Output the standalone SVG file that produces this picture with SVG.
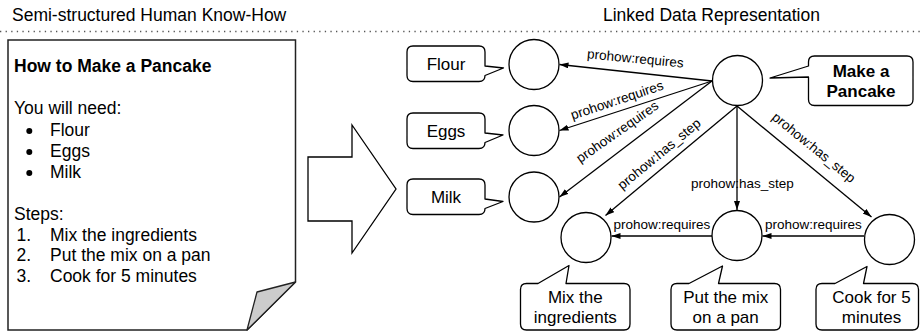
<svg xmlns="http://www.w3.org/2000/svg" width="920" height="331" viewBox="0 0 920 331">
<defs>
<marker id="ah" markerUnits="userSpaceOnUse" markerWidth="10" markerHeight="8" refX="9" refY="3" orient="auto">
<path d="M0,0 L9,3 L0,6 Z" fill="#000"/>
</marker>
<style>
text{font-family:"Liberation Sans",Arial,sans-serif;fill:#000}
.big{font-size:17.5px}
.cl{font-size:17px;text-anchor:middle}
.b{font-weight:bold}
.lbl{font-size:13.5px}
.lblm{font-size:13.5px;text-anchor:middle}
.node{fill:#fff;stroke:#000;stroke-width:1.3}
.call{fill:#fff;stroke:#000;stroke-width:1.3;stroke-linejoin:round}
.edge{fill:none;stroke:#000;stroke-width:1.3;marker-end:url(#ah)}
</style>
</defs>
<rect width="920" height="331" fill="#fff"/>

<g id="headers">
<text class="big" x="12" y="20.5">Semi-structured Human Know-How</text>
<text class="big" x="603" y="20.5">Linked Data Representation</text>
<line x1="0" y1="31.5" x2="920" y2="31.5" stroke="#555" stroke-width="1.3" stroke-dasharray="1.3 4.3"/>
</g>

<g id="document">
<path d="M8,40 H295.5 V282 L247,330 H8 Z" fill="#fff" stroke="#222" stroke-width="1.5" stroke-linejoin="miter"/>
<path d="M295.5,282 L257,292 L247,330 Z" fill="#cccccc" stroke="#222" stroke-width="1.3" stroke-linejoin="round"/>
<text class="big b" x="14" y="72">How to Make a Pancake</text>
<text class="big" x="14" y="114">You will need:</text>
<circle cx="29.3" cy="131" r="3" fill="#000"/>
<circle cx="29.3" cy="152" r="3" fill="#000"/>
<circle cx="29.3" cy="173" r="3" fill="#000"/>
<text class="big" x="50" y="135.5">Flour</text>
<text class="big" x="50" y="156.5">Eggs</text>
<text class="big" x="50" y="177.5">Milk</text>
<text class="big" x="14" y="219.5">Steps:</text>
<text class="big" x="16.5" y="240.5">1.</text>
<text class="big" x="50" y="240.5">Mix the ingredients</text>
<text class="big" x="16.5" y="261">2.</text>
<text class="big" x="50" y="261">Put the mix on a pan</text>
<text class="big" x="16.5" y="282">3.</text>
<text class="big" x="50" y="282">Cook for 5 minutes</text>
</g>

<g id="transform-arrow">
<path d="M308,157 H352 V125 L396,189 L352,253 V221 H308 Z" fill="#fff" stroke="#000" stroke-width="1.3" stroke-linejoin="miter"/>
</g>

<g id="connectors">
<path class="edge" d="M712,81 L559.5,64.5"/>
<path class="edge" d="M712,81 L559.5,130.5"/>
<path class="edge" d="M712,81 L559.5,197"/>
<path class="edge" d="M737,106 L605.5,215.5"/>
<path class="edge" d="M737,106 L737,210"/>
<path class="edge" d="M737,106 L871.5,217"/>
<path class="edge" d="M712,236 L611.5,236"/>
<path class="edge" d="M864,236 L762.5,236"/>
<text class="lblm" transform="translate(635,63) rotate(5.5)">prohow:requires</text>
<text class="lblm" transform="translate(618.5,104.5) rotate(-18.5)">prohow:requires</text>
<text class="lblm" transform="translate(620,135.5) rotate(-35)">prohow:requires</text>
<text class="lblm" transform="translate(662,157.5) rotate(-39.5)">prohow:has_step</text>
<text class="lblm" transform="translate(811,151) rotate(39)">prohow:has_step</text>
<text class="lbl" x="691" y="187.5">prohow:has_step</text>
<text class="lbl" x="613.5" y="228.5">prohow:requires</text>
<text class="lbl" x="765" y="228.5">prohow:requires</text>
</g>

<g id="node-flour">
<circle class="node" cx="534" cy="64.5" r="25"/>
<path class="call" d="M413,46 H479 Q485,46 485,52 V66 L503.5,68 L485,75.5 Q485,81.5 479,81.5 H413 Q407,81.5 407,75.5 V52 Q407,46 413,46 Z"/>
<text class="cl" x="446" y="70">Flour</text>
</g>

<g id="node-eggs">
<circle class="node" cx="534" cy="130.5" r="25"/>
<path class="call" d="M413,113 H479 Q485,113 485,119 V133 L503,135 L485,142.5 Q485,148.5 479,148.5 H413 Q407,148.5 407,142.5 V119 Q407,113 413,113 Z"/>
<text class="cl" x="446" y="136.5">Eggs</text>
</g>

<g id="node-milk">
<circle class="node" cx="534" cy="197" r="25"/>
<path class="call" d="M413,179 H479 Q485,179 485,185 V199 L503,201.5 L485,208.5 Q485,214.5 479,214.5 H413 Q407,214.5 407,208.5 V185 Q407,179 413,179 Z"/>
<text class="cl" x="446" y="203">Milk</text>
</g>

<g id="node-pancake">
<circle class="node" cx="737.5" cy="80.5" r="25"/>
<path class="call" d="M814.5,56 H907 Q913,56 913,62 V99.5 Q913,105.5 907,105.5 H814.5 Q808.5,105.5 808.5,99.5 V77 L770,78 L808.5,66 V62 Q808.5,56 814.5,56 Z"/>
<text class="cl b" x="861" y="76.7">Make a</text>
<text class="cl b" x="861" y="96.7">Pancake</text>
</g>

<g id="node-mix">
<circle class="node" cx="586" cy="237.5" r="25"/>
<path class="call" d="M526.5,283.5 H538 L569,265.5 L566,283.5 H624 Q630,283.5 630,289.5 V324 Q630,330 624,330 H526.5 Q520.5,330 520.5,324 V289.5 Q520.5,283.5 526.5,283.5 Z"/>
<text class="cl" x="575.3" y="303.3">Mix the</text>
<text class="cl" x="575.3" y="323">ingredients</text>
</g>

<g id="node-put">
<circle class="node" cx="737" cy="235.5" r="25"/>
<path class="call" d="M677,283.5 H689 L722.5,266 L718.5,283.5 H774.5 Q780.5,283.5 780.5,289.5 V324 Q780.5,330 774.5,330 H677 Q671,330 671,324 V289.5 Q671,283.5 677,283.5 Z"/>
<text class="cl" x="725.7" y="303.3">Put the mix</text>
<text class="cl" x="725.7" y="323">on a pan</text>
</g>

<g id="node-cook">
<circle class="node" cx="889.5" cy="239.5" r="25"/>
<path class="call" d="M822,283.5 H835 L867,266.5 L863.5,283.5 H912.5 Q918.5,283.5 918.5,289.5 V324 Q918.5,330 912.5,330 H822 Q816,330 816,324 V289.5 Q816,283.5 822,283.5 Z"/>
<text class="cl" x="871.5" y="303.3">Cook for 5</text>
<text class="cl" x="871.5" y="323">minutes</text>
</g>
</svg>
